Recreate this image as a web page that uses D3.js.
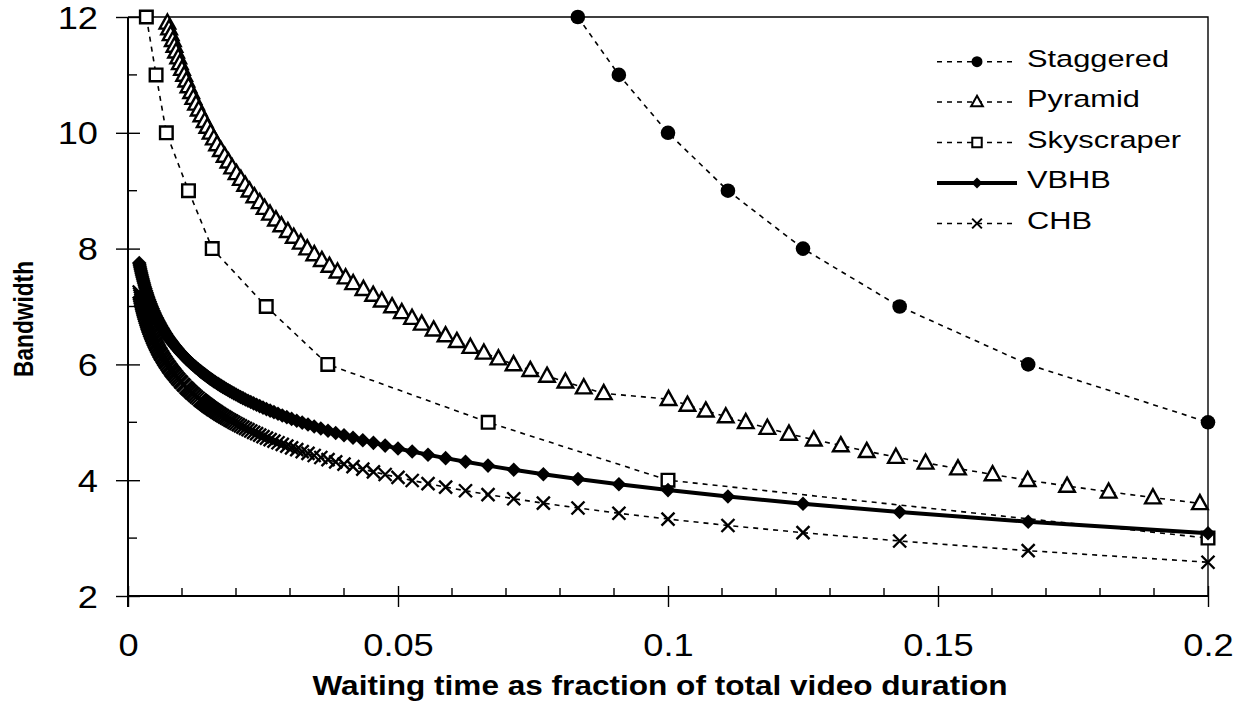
<!DOCTYPE html>
<html lang="en">
<head>
<meta charset="utf-8">
<title>Bandwidth vs waiting time</title>
<script src="https://d3js.org/d3.v7.min.js"></script>
<style>
  body { margin: 0; background: #fff; }
  svg text { font-family: "Liberation Sans", Arial, sans-serif; fill: #000; }
</style>
</head>
<body>
<script>
// waiting time (fraction of video) -> bandwidth

var staggeredX = [0.0833, 0.0909, 0.1, 0.1111, 0.125, 0.1429, 0.1667, 0.2];
var staggeredY = [12, 11, 10, 9, 8, 7, 6, 5];

var pyramidX = [0.0073, 0.0076, 0.0079, 0.0083, 0.0086, 0.0089, 0.0093, 0.0096, 0.0100, 0.0104,
  0.0108, 0.0112, 0.0117, 0.0121, 0.0126, 0.0131, 0.0136, 0.0142, 0.0147, 0.0153,
  0.0159, 0.0165, 0.0172, 0.0179, 0.0186, 0.0193, 0.0201, 0.0209, 0.0217, 0.0225,
  0.0234, 0.0244, 0.0253, 0.0263, 0.0274, 0.0284, 0.0296, 0.0307, 0.0320, 0.0332,
  0.0345, 0.0359, 0.0373, 0.0388, 0.0403, 0.0417, 0.0436, 0.0454, 0.0470, 0.0489,
  0.0507, 0.0526, 0.0544, 0.0566, 0.0588, 0.0609, 0.0634, 0.0659, 0.0686, 0.0714,
  0.0745, 0.0776, 0.0810, 0.0844, 0.0881, 0.1001, 0.1036, 0.1070, 0.1107, 0.1144,
  0.1184, 0.1224, 0.1270, 0.1320, 0.1368, 0.1422, 0.1477, 0.1537, 0.1601, 0.1666,
  0.1739, 0.1816, 0.1898, 0.1985];
var pyramidY = [11.9, 11.8, 11.7, 11.6, 11.5, 11.4, 11.3, 11.2, 11.1, 11.0,
  10.9, 10.8, 10.7, 10.6, 10.5, 10.4, 10.3, 10.2, 10.1, 10.0,
  9.9, 9.8, 9.7, 9.6, 9.5, 9.4, 9.3, 9.2, 9.1, 9.0,
  8.9, 8.8, 8.7, 8.6, 8.5, 8.4, 8.3, 8.2, 8.1, 8.0,
  7.9, 7.8, 7.7, 7.6, 7.5, 7.4, 7.3, 7.2, 7.1, 7.0,
  6.9, 6.8, 6.7, 6.6, 6.5, 6.4, 6.3, 6.2, 6.1, 6.0,
  5.9, 5.8, 5.7, 5.6, 5.5, 5.4, 5.3, 5.2, 5.1, 5.0,
  4.9, 4.8, 4.7, 4.6, 4.5, 4.4, 4.3, 4.2, 4.1, 4.0,
  3.9, 3.8, 3.7, 3.6];

var skyscraperX = [0.0034, 0.0052, 0.0071, 0.0112, 0.0156, 0.0256, 0.037, 0.0667, 0.1, 0.2];
var skyscraperY = [12, 11, 10, 9, 8, 7, 6, 5, 4, 3];

// VBHB and CHB share the same waiting times
var hbX = [0.00208, 0.00216, 0.00223, 0.00231, 0.00239, 0.00248, 0.00256, 0.00265, 0.00275, 0.00284,
  0.00294, 0.00304, 0.00314, 0.00325, 0.00336, 0.00346, 0.00357, 0.00369, 0.0038, 0.00392,
  0.00405, 0.00418, 0.00431, 0.00444, 0.00459, 0.00474, 0.00488, 0.00503, 0.00518, 0.00535,
  0.00549, 0.00565, 0.00581, 0.00599, 0.00613, 0.00633, 0.00649, 0.00667, 0.00685, 0.00704,
  0.00725, 0.00746, 0.00763, 0.00787, 0.00806, 0.00826, 0.00847, 0.0087, 0.00893, 0.00917,
  0.00943, 0.00971, 0.0099, 0.0102, 0.01042, 0.01075, 0.01099, 0.01124, 0.01149, 0.01176,
  0.01205, 0.01235, 0.01266, 0.01299, 0.01333, 0.01351, 0.0137, 0.01389, 0.01408, 0.01429,
  0.01449, 0.01471, 0.01493, 0.01515, 0.01538, 0.01563, 0.01587, 0.01613, 0.01639, 0.01667,
  0.01695, 0.01724, 0.01754, 0.01786, 0.01818, 0.01852, 0.01887, 0.01923, 0.01961, 0.02,
  0.02041, 0.02083, 0.02128, 0.02174, 0.02222, 0.02273, 0.02326, 0.02381, 0.02439, 0.025,
  0.02564, 0.02632, 0.02703, 0.02778, 0.02857, 0.02941, 0.0303, 0.03125, 0.03226, 0.03333,
  0.03448, 0.03571, 0.03704, 0.03846, 0.04, 0.04167, 0.04348, 0.04545, 0.04762, 0.05,
  0.05263, 0.05556, 0.05882, 0.0625, 0.06667, 0.07143, 0.07692, 0.08333, 0.09091, 0.1,
  0.1111, 0.125, 0.1429, 0.1667, 0.2];
var vbhbY = [7.750, 7.716, 7.681, 7.647, 7.612, 7.577, 7.542, 7.508, 7.473, 7.439,
  7.405, 7.372, 7.338, 7.306, 7.273, 7.242, 7.210, 7.178, 7.147, 7.117,
  7.085, 7.052, 7.022, 6.991, 6.959, 6.927, 6.898, 6.868, 6.837, 6.806,
  6.779, 6.751, 6.722, 6.692, 6.668, 6.637, 6.611, 6.585, 6.557, 6.530,
  6.501, 6.471, 6.449, 6.418, 6.394, 6.369, 6.344, 6.318, 6.291, 6.264,
  6.236, 6.207, 6.187, 6.157, 6.136, 6.104, 6.083, 6.060, 6.037, 6.014,
  5.990, 5.966, 5.940, 5.915, 5.888, 5.875, 5.861, 5.847, 5.833, 5.819,
  5.804, 5.789, 5.774, 5.759, 5.744, 5.728, 5.712, 5.696, 5.680, 5.663,
  5.646, 5.629, 5.612, 5.594, 5.575, 5.557, 5.538, 5.519, 5.499, 5.479,
  5.459, 5.438, 5.417, 5.395, 5.373, 5.350, 5.327, 5.303, 5.279, 5.254,
  5.228, 5.202, 5.175, 5.147, 5.118, 5.089, 5.059, 5.027, 4.995, 4.962,
  4.927, 4.892, 4.854, 4.816, 4.776, 4.734, 4.691, 4.645, 4.598, 4.548,
  4.495, 4.440, 4.381, 4.318, 4.252, 4.180, 4.103, 4.020, 3.929, 3.829,
  3.718, 3.593, 3.450, 3.283, 3.083];
var chbY = [7.250, 7.216, 7.181, 7.147, 7.112, 7.077, 7.042, 7.008, 6.973, 6.939,
  6.905, 6.872, 6.838, 6.806, 6.773, 6.742, 6.710, 6.678, 6.647, 6.617,
  6.585, 6.552, 6.522, 6.491, 6.459, 6.427, 6.398, 6.368, 6.337, 6.306,
  6.279, 6.251, 6.222, 6.192, 6.168, 6.137, 6.111, 6.085, 6.057, 6.030,
  6.001, 5.971, 5.949, 5.918, 5.894, 5.869, 5.844, 5.818, 5.791, 5.764,
  5.736, 5.707, 5.687, 5.657, 5.636, 5.604, 5.583, 5.560, 5.537, 5.514,
  5.490, 5.466, 5.440, 5.415, 5.388, 5.375, 5.361, 5.347, 5.333, 5.319,
  5.304, 5.289, 5.274, 5.259, 5.244, 5.228, 5.212, 5.196, 5.180, 5.163,
  5.146, 5.129, 5.112, 5.094, 5.075, 5.057, 5.038, 5.019, 4.999, 4.979,
  4.959, 4.938, 4.917, 4.895, 4.873, 4.850, 4.827, 4.803, 4.779, 4.754,
  4.728, 4.702, 4.675, 4.647, 4.618, 4.589, 4.559, 4.527, 4.495, 4.462,
  4.427, 4.392, 4.354, 4.316, 4.276, 4.234, 4.191, 4.145, 4.098, 4.048,
  3.995, 3.940, 3.881, 3.818, 3.752, 3.680, 3.603, 3.520, 3.429, 3.329,
  3.218, 3.093, 2.950, 2.783, 2.583];

var xMajor = [0, 0.05, 0.1, 0.15, 0.2];
var xMinor = [0.01, 0.02, 0.03, 0.04, 0.06, 0.07, 0.08, 0.09, 0.11, 0.12, 0.13, 0.14, 0.16, 0.17, 0.18, 0.19];
var yMajor = [2, 4, 6, 8, 10, 12];
var yMinor = [3, 5, 7, 9, 11];

var w = 1245, h = 717;
var plotL = 128, plotR = 1208, plotT = 17, plotB = 596;

var xScale = d3.scaleLinear().domain([0, 0.2]).range([plotL, plotR]);
var yScale = d3.scaleLinear().domain([2, 12]).range([plotB, plotT]);

var svg = d3.select("body").append("svg")
    .attr("width", w)
    .attr("height", h);

svg.append("rect")
    .attr("width", w).attr("height", h).attr("fill", "#fff");

// stretch text horizontally, the original figure is a bit wide
function stretch(sel, k) {
  sel.each(function () {
    var len = this.getComputedTextLength();
    d3.select(this).attr("textLength", len * k).attr("lengthAdjust", "spacingAndGlyphs");
  });
}

// frame (top + right)
svg.append("path")
    .attr("d", `M${plotL},${plotT}H${plotR}V${plotB}`)
    .attr("fill", "none").attr("stroke", "#000").attr("stroke-width", 1.4);

// x axis
var xAxis = svg.append("g")
    .attr("transform", `translate(0,${plotB})`)
    .call(d3.axisBottom(xScale).tickValues(xMajor).tickFormat(d3.format("")));
xAxis.select(".domain").remove();
xAxis.selectAll(".tick line").attr("y1", -10).attr("y2", 11).attr("stroke-width", 1.4);
xAxis.selectAll(".tick text")
    .attr("y", 60).attr("dy", null)
    .style("font-size", "31.5px")
    .call(stretch, 1.15);
xAxis.append("g").selectAll("line")
  .data(xMinor)
  .enter().append("line")
    .attr("x1", d => xScale(d)).attr("x2", d => xScale(d))
    .attr("y1", -8).attr("y2", 0)
    .attr("stroke", "#000").attr("stroke-width", 1.4);
xAxis.append("line")
    .attr("x1", plotL).attr("x2", plotR)
    .attr("stroke", "#000").attr("stroke-width", 2);

// y axis
var yAxis = svg.append("g")
    .attr("transform", `translate(${plotL},0)`)
    .call(d3.axisLeft(yScale).tickValues(yMajor));
yAxis.select(".domain").remove();
yAxis.selectAll(".tick line").attr("x1", 12).attr("x2", -12).attr("stroke-width", 1.4);
yAxis.selectAll(".tick text")
    .attr("x", -30).attr("dy", "0.355em")
    .style("font-size", "31.5px")
    .call(stretch, 1.15);
yAxis.append("g").selectAll("line")
  .data(yMinor)
  .enter().append("line")
    .attr("y1", d => yScale(d)).attr("y2", d => yScale(d))
    .attr("x1", 0).attr("x2", 9)
    .attr("stroke", "#000").attr("stroke-width", 1.4);
yAxis.append("line")
    .attr("y1", plotT).attr("y2", plotB + 11)
    .attr("stroke", "#000").attr("stroke-width", 2);

// axis titles
svg.append("text")
    .attr("x", 660).attr("y", 695)
    .attr("text-anchor", "middle")
    .attr("textLength", 695).attr("lengthAdjust", "spacingAndGlyphs")
    .style("font-size", "28px").style("font-weight", "bold")
    .text("Waiting time as fraction of total video duration");

svg.append("text")
    .attr("transform", "translate(33,319) rotate(-90)")
    .attr("text-anchor", "middle")
    .attr("textLength", 116).attr("lengthAdjust", "spacingAndGlyphs")
    .style("font-size", "28px").style("font-weight", "bold")
    .text("Bandwidth");

// markers
var shapes = {
  circle: "M7.3,0A7.3,7.3 0 1,1 -7.3,0A7.3,7.3 0 1,1 7.3,0Z",
  triangle: "M0,-8.3L7.8,5.8L-7.8,5.8Z",
  square: "M-6.3,-6.3H6.3V6.3H-6.3Z",
  diamond: "M0,-7.3L7.3,0L0,7.3L-7.3,0Z",
  cross: "M-6.5,-6.5L6.5,6.5M-6.5,6.5L6.5,-6.5"
};

var series = [
  {name: "Staggered", xs: staggeredX, ys: staggeredY, shape: "circle", fill: "#000", sw: 0, dash: "5,5", lw: 1.6},
  {name: "Pyramid", xs: pyramidX, ys: pyramidY, shape: "triangle", fill: "#fff", sw: 2.4, dash: "5,5", lw: 1.6},
  {name: "Skyscraper", xs: skyscraperX, ys: skyscraperY, shape: "square", fill: "#fff", sw: 2.4, dash: "5,5", lw: 1.6},
  {name: "VBHB", xs: hbX, ys: vbhbY, shape: "diamond", fill: "#000", sw: 0, dash: null, lw: 4},
  {name: "CHB", xs: hbX, ys: chbY, shape: "cross", fill: "none", sw: 2.4, dash: "5,5", lw: 1.6}
];

var line = d3.line()
    .x(d => xScale(d[0]))
    .y(d => yScale(d[1]));

series.forEach(function (s) {
  var pts = d3.zip(s.xs, s.ys);
  var g = svg.append("g").attr("class", "series");
  g.append("path")
      .attr("d", line(pts))
      .attr("fill", "none")
      .attr("stroke", "#000")
      .attr("stroke-width", s.lw)
      .attr("stroke-dasharray", s.dash);
  g.selectAll(".mark")
    .data(pts)
    .enter().append("path")
      .attr("class", "mark")
      .attr("transform", d => `translate(${xScale(d[0])},${yScale(d[1])})`)
      .attr("d", shapes[s.shape])
      .attr("fill", s.fill)
      .attr("stroke", "#000")
      .attr("stroke-width", s.sw);
});

// legend
var legend = svg.append("g").attr("transform", "translate(937,0)");
var rowY = [61.7, 102, 142.5, 183, 223.5];

series.forEach(function (s, i) {
  var row = legend.append("g").attr("transform", `translate(0,${rowY[i]})`);
  row.append("line")
      .attr("x1", 0).attr("x2", 80)
      .attr("stroke", "#000")
      .attr("stroke-width", s.lw)
      .attr("stroke-dasharray", s.dash);
  row.append("path")
      .attr("transform", "translate(40,0) scale(0.75)")
      .attr("d", shapes[s.shape])
      .attr("fill", s.fill)
      .attr("stroke", "#000")
      .attr("stroke-width", s.sw / 0.75 * 0.85);
  row.append("text")
      .attr("x", 90).attr("y", 5)
      .style("font-size", "23.7px")
      .text(s.name)
      .call(stretch, 1.3);
});
</script>
</body>
</html>
